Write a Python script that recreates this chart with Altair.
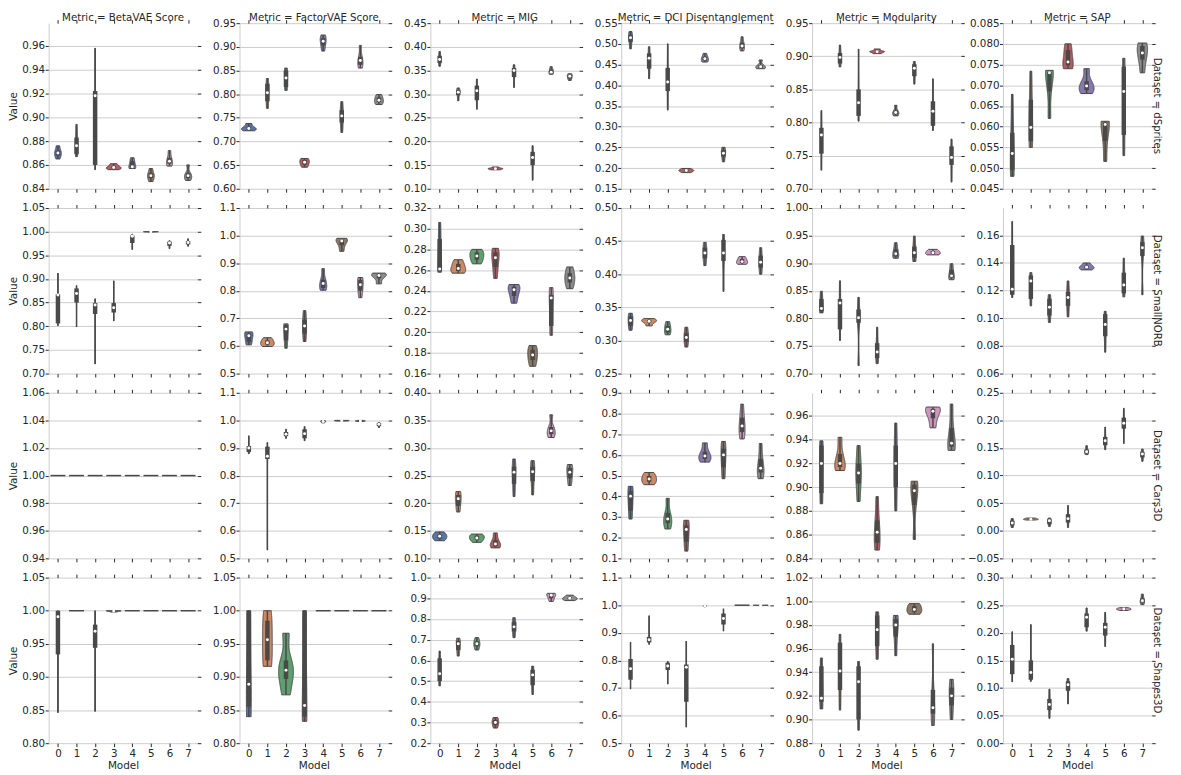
import altair as alt
import pandas as pd

datasets = ["dSprites", "SmallNORB", "Cars3D", "Shapes3D"]
metrics = ["BetaVAE Score", "FactorVAE Score", "MIG", "DCI Disentanglement", "Modularity", "SAP"]
models = [0, 1, 2, 3, 4, 5, 6, 7]
palette = ["#5975a4", "#cc8963", "#5f9e6e", "#b55d60", "#857aab", "#8d7866", "#d095bf", "#8c8c8c"]

# ---- values per violin (one list per model) ----
dsprites_beta = [[0.865, 0.868, 0.870, 0.872, 0.876], [0.867, 0.869, 0.876, 0.883, 0.894],
                 [0.856, 0.860, 0.918, 0.922, 0.958], [0.856, 0.857, 0.8578, 0.859, 0.861],
                 [0.857, 0.858, 0.8585, 0.863, 0.866], [0.846, 0.849, 0.851, 0.853, 0.857],
                 [0.859, 0.861, 0.863, 0.866, 0.872], [0.847, 0.849, 0.851, 0.853, 0.860]]
dsprites_factor = [[0.7225, 0.725, 0.7275, 0.731, 0.738], [0.770, 0.785, 0.803, 0.822, 0.833],
                   [0.808, 0.815, 0.834, 0.850, 0.855], [0.6455, 0.651, 0.656, 0.661, 0.664],
                   [0.891, 0.903, 0.912, 0.918, 0.925], [0.719, 0.740, 0.754, 0.766, 0.784],
                   [0.855, 0.862, 0.871, 0.879, 0.903], [0.778, 0.783, 0.787, 0.793, 0.799]]
dsprites_mig = [[0.359, 0.366, 0.373, 0.381, 0.390], [0.286, 0.298, 0.304, 0.308, 0.313],
                [0.268, 0.287, 0.307, 0.318, 0.332], [0.140, 0.1415, 0.1425, 0.1435, 0.146],
                [0.314, 0.336, 0.350, 0.355, 0.362], [0.118, 0.150, 0.166, 0.178, 0.191],
                [0.342, 0.344, 0.3465, 0.352, 0.358], [0.329, 0.333, 0.338, 0.340, 0.343]]
dsprites_dci = [[0.488, 0.505, 0.515, 0.521, 0.530], [0.416, 0.440, 0.465, 0.477, 0.493],
                [0.340, 0.386, 0.408, 0.442, 0.500], [0.189, 0.192, 0.194, 0.196, 0.199],
                [0.456, 0.460, 0.464, 0.469, 0.477], [0.215, 0.228, 0.236, 0.243, 0.250],
                [0.483, 0.489, 0.495, 0.503, 0.517], [0.440, 0.442, 0.445, 0.449, 0.461]]
dsprites_mod = [[0.728, 0.753, 0.781, 0.792, 0.818], [0.884, 0.889, 0.898, 0.905, 0.917],
                [0.802, 0.810, 0.830, 0.850, 0.911], [0.904, 0.906, 0.907, 0.908, 0.911],
                [0.810, 0.8125, 0.815, 0.818, 0.826], [0.858, 0.870, 0.882, 0.888, 0.892],
                [0.788, 0.795, 0.817, 0.832, 0.866], [0.710, 0.736, 0.747, 0.764, 0.775]]
dsprites_sap = [[0.048, 0.0495, 0.0535, 0.0585, 0.0678], [0.055, 0.0565, 0.0598, 0.0665, 0.0734],
                [0.062, 0.0685, 0.073, 0.0733, 0.0736], [0.074, 0.0748, 0.0756, 0.0785, 0.080],
                [0.068, 0.0688, 0.0698, 0.071, 0.074], [0.0516, 0.0565, 0.0605, 0.061, 0.0613],
                [0.053, 0.058, 0.0685, 0.0745, 0.0765], [0.073, 0.0762, 0.0778, 0.0795, 0.0802]]

smallnorb_beta = [[0.801, 0.806, 0.866, 0.868, 0.912], [0.7985, 0.850, 0.869, 0.880, 0.886],
                  [0.720, 0.826, 0.845, 0.849, 0.858], [0.811, 0.829, 0.839, 0.849, 0.896],
                  [0.962, 0.976, 0.990, 0.992, 0.995], [0.9990, 0.9995, 0.99975, 1.0, 1.0],
                  [0.964, 0.970, 0.976, 0.979, 0.981], [0.969, 0.973, 0.977, 0.980, 0.985]]
smallnorb_factor = [[0.604, 0.615, 0.637, 0.645, 0.651], [0.598, 0.605, 0.612, 0.620, 0.630],
                    [0.592, 0.620, 0.661, 0.675, 0.680], [0.616, 0.645, 0.672, 0.695, 0.728],
                    [0.802, 0.810, 0.826, 0.840, 0.880], [0.943, 0.965, 0.980, 0.985, 0.990],
                    [0.775, 0.800, 0.822, 0.840, 0.848], [0.825, 0.845, 0.855, 0.860, 0.864]]
smallnorb_mig = [[0.258, 0.2595, 0.261, 0.290, 0.306], [0.257, 0.259, 0.2615, 0.266, 0.270],
                 [0.266, 0.270, 0.2737, 0.277, 0.280], [0.252, 0.263, 0.272, 0.277, 0.281],
                 [0.228, 0.235, 0.241, 0.244, 0.246], [0.167, 0.173, 0.178, 0.183, 0.187],
                 [0.197, 0.206, 0.233, 0.236, 0.243], [0.242, 0.248, 0.2523, 0.257, 0.263]]
smallnorb_dci = [[0.3155, 0.322, 0.330, 0.336, 0.341], [0.322, 0.327, 0.329, 0.331, 0.333],
                 [0.3085, 0.312, 0.317, 0.322, 0.3283], [0.290, 0.298, 0.3045, 0.311, 0.320],
                 [0.413, 0.424, 0.432, 0.440, 0.448], [0.374, 0.420, 0.432, 0.452, 0.460],
                 [0.415, 0.417, 0.419, 0.423, 0.4265], [0.400, 0.410, 0.418, 0.428, 0.440]]
smallnorb_mod = [[0.810, 0.813, 0.818, 0.835, 0.849], [0.760, 0.780, 0.828, 0.835, 0.868],
                 [0.7145, 0.792, 0.801, 0.816, 0.838], [0.718, 0.728, 0.739, 0.755, 0.784],
                 [0.909, 0.912, 0.917, 0.925, 0.937], [0.903, 0.910, 0.919, 0.930, 0.949],
                 [0.915, 0.917, 0.919, 0.922, 0.925], [0.870, 0.874, 0.877, 0.888, 0.899]]
smallnorb_sap = [[0.115, 0.117, 0.121, 0.153, 0.170], [0.109, 0.114, 0.127, 0.131, 0.133],
                 [0.097, 0.102, 0.108, 0.114, 0.117], [0.101, 0.109, 0.115, 0.119, 0.127],
                 [0.135, 0.136, 0.137, 0.138, 0.140], [0.0755, 0.087, 0.0955, 0.103, 0.105],
                 [0.1155, 0.118, 0.124, 0.133, 0.1435], [0.117, 0.145, 0.151, 0.155, 0.1595]]

cars3d_beta = [[1.0, 1.0, 1.0, 1.0, 1.0] for _ in range(8)]
cars3d_factor = [[0.879, 0.885, 0.900, 0.907, 0.944], [0.53, 0.86, 0.870, 0.905, 0.92],
                 [0.935, 0.943, 0.950, 0.958, 0.968], [0.926, 0.935, 0.952, 0.968, 0.978],
                 [0.991, 0.994, 0.996, 0.998, 0.9995], [0.9975, 0.998, 0.999, 0.9995, 1.0],
                 [0.996, 0.997, 0.998, 0.999, 1.0], [0.974, 0.980, 0.986, 0.990, 0.992]]
cars3d_mig = [[0.132, 0.136, 0.140, 0.143, 0.148], [0.184, 0.195, 0.208, 0.215, 0.221],
              [0.129, 0.134, 0.137, 0.141, 0.144], [0.119, 0.122, 0.126, 0.133, 0.146],
              [0.212, 0.235, 0.256, 0.266, 0.280], [0.215, 0.240, 0.257, 0.266, 0.277],
              [0.319, 0.325, 0.331, 0.338, 0.360], [0.232, 0.245, 0.256, 0.264, 0.270]]
cars3d_dci = [[0.290, 0.330, 0.400, 0.425, 0.448], [0.456, 0.470, 0.484, 0.498, 0.515],
              [0.242, 0.270, 0.290, 0.320, 0.390], [0.135, 0.180, 0.240, 0.260, 0.284],
              [0.565, 0.580, 0.595, 0.615, 0.658], [0.485, 0.540, 0.600, 0.630, 0.665],
              [0.677, 0.710, 0.740, 0.780, 0.845], [0.485, 0.515, 0.535, 0.580, 0.655]]
cars3d_mod = [[0.886, 0.895, 0.920, 0.935, 0.939], [0.914, 0.917, 0.920, 0.928, 0.942],
              [0.888, 0.903, 0.912, 0.920, 0.935], [0.847, 0.853, 0.862, 0.872, 0.892],
              [0.880, 0.900, 0.920, 0.935, 0.954], [0.856, 0.885, 0.897, 0.902, 0.905],
              [0.950, 0.958, 0.964, 0.966, 0.9675], [0.931, 0.934, 0.937, 0.950, 0.970]]
cars3d_sap = [[0.006, 0.010, 0.014, 0.018, 0.022], [0.0195, 0.0205, 0.021, 0.022, 0.023],
              [0.008, 0.012, 0.018, 0.021, 0.023], [0.006, 0.015, 0.022, 0.030, 0.046],
              [0.138, 0.141, 0.143, 0.147, 0.154], [0.147, 0.155, 0.163, 0.170, 0.188],
              [0.158, 0.185, 0.195, 0.205, 0.222], [0.126, 0.133, 0.139, 0.143, 0.148]]

shapes3d_beta = [[0.846, 0.934, 0.991, 1.0, 1.0], [1.0, 1.0, 1.0, 1.0, 1.0],
                 [0.848, 0.944, 0.969, 0.979, 1.0], [0.998, 0.999, 0.9995, 1.0, 1.0],
                 [1.0, 1.0, 1.0, 1.0, 1.0], [1.0, 1.0, 1.0, 1.0, 1.0],
                 [1.0, 1.0, 1.0, 1.0, 1.0], [1.0, 1.0, 1.0, 1.0, 1.0]]
shapes3d_factor = [[0.840, 0.855, 0.889, 1.0, 1.0], [0.916, 0.925, 0.956, 0.985, 1.0],
                   [0.873, 0.897, 0.910, 0.925, 0.966], [0.833, 0.840, 0.857, 1.0, 1.0],
                   [1.0, 1.0, 1.0, 1.0, 1.0], [1.0, 1.0, 1.0, 1.0, 1.0],
                   [1.0, 1.0, 1.0, 1.0, 1.0], [1.0, 1.0, 1.0, 1.0, 1.0]]
shapes3d_mig = [[0.477, 0.500, 0.536, 0.610, 0.645], [0.621, 0.650, 0.680, 0.695, 0.707],
                [0.650, 0.668, 0.680, 0.692, 0.710], [0.273, 0.288, 0.300, 0.312, 0.324],
                [0.710, 0.740, 0.762, 0.785, 0.806], [0.435, 0.480, 0.530, 0.555, 0.572],
                [0.885, 0.900, 0.915, 0.920, 0.924], [0.889, 0.895, 0.900, 0.905, 0.915]]
shapes3d_dci = [[0.696, 0.730, 0.770, 0.805, 0.866], [0.858, 0.865, 0.875, 0.885, 0.962],
                [0.714, 0.765, 0.780, 0.792, 0.797], [0.558, 0.650, 0.775, 0.785, 0.870],
                [0.994, 0.996, 0.998, 0.999, 1.0], [0.906, 0.930, 0.952, 0.970, 0.987],
                [1.0, 1.0, 1.0, 1.0, 1.0], [0.999, 0.9995, 1.0, 1.0, 1.0]]
shapes3d_mod = [[0.909, 0.915, 0.918, 0.945, 0.952], [0.908, 0.925, 0.941, 0.965, 0.972],
                [0.891, 0.900, 0.932, 0.945, 0.949], [0.951, 0.962, 0.976, 0.988, 0.991],
                [0.954, 0.970, 0.980, 0.985, 0.988], [0.989, 0.991, 0.993, 0.996, 0.998],
                [0.895, 0.905, 0.910, 0.925, 0.964], [0.900, 0.912, 0.920, 0.927, 0.934]]
shapes3d_sap = [[0.111, 0.125, 0.152, 0.178, 0.202], [0.112, 0.115, 0.128, 0.150, 0.215],
                [0.045, 0.060, 0.070, 0.080, 0.098], [0.071, 0.095, 0.106, 0.112, 0.117],
                [0.203, 0.210, 0.228, 0.235, 0.245], [0.175, 0.195, 0.210, 0.218, 0.237],
                [0.2405, 0.242, 0.243, 0.244, 0.2455], [0.251, 0.255, 0.258, 0.262, 0.270]]

# ---- y axis of each panel: (low, high, tick step, tick label format) ----
dsprites_axes = [(0.84, 0.979, 0.02, ".2f"), (0.60, 0.95, 0.05, ".2f"), (0.10, 0.45, 0.05, ".2f"),
                 (0.15, 0.55, 0.05, ".2f"), (0.70, 0.95, 0.05, ".2f"), (0.045, 0.085, 0.005, ".3f")]
smallnorb_axes = [(0.70, 1.05, 0.05, ".2f"), (0.5, 1.1, 0.1, ".1f"), (0.16, 0.32, 0.02, ".2f"),
                  (0.25, 0.50, 0.05, ".2f"), (0.70, 1.00, 0.05, ".2f"), (0.06, 0.1798, 0.02, ".2f")]
cars3d_axes = [(0.94, 1.06, 0.02, ".2f"), (0.5, 1.1, 0.1, ".1f"), (0.10, 0.40, 0.05, ".2f"),
               (0.1, 0.9, 0.1, ".1f"), (0.84, 0.9795, 0.02, ".2f"), (-0.05, 0.25, 0.05, ".2f")]
shapes3d_axes = [(0.80, 1.05, 0.05, ".2f"), (0.80, 1.05, 0.05, ".2f"), (0.2, 1.0, 0.1, ".1f"),
                 (0.5, 1.1, 0.1, ".1f"), (0.88, 1.02, 0.02, ".2f"), (0.0, 0.30, 0.05, ".2f")]

panels = [
    [dsprites_beta, dsprites_factor, dsprites_mig, dsprites_dci, dsprites_mod, dsprites_sap],
    [smallnorb_beta, smallnorb_factor, smallnorb_mig, smallnorb_dci, smallnorb_mod, smallnorb_sap],
    [cars3d_beta, cars3d_factor, cars3d_mig, cars3d_dci, cars3d_mod, cars3d_sap],
    [shapes3d_beta, shapes3d_factor, shapes3d_mig, shapes3d_dci, shapes3d_mod, shapes3d_sap],
]
axes_rows = [dsprites_axes, smallnorb_axes, cars3d_axes, shapes3d_axes]

rows = []
for di, d in enumerate(datasets):
    for mi, m in enumerate(metrics):
        for model, vals in zip(models, panels[di][mi]):
            for v in vals:
                rows.append({"Dataset": d, "Metric": m, "Model": model, "Value": v})
df = pd.DataFrame(rows)

INK = "#262626"
GRAY = "#494949"
GRID = "#cccccc"
FONT = "DejaVu Sans"
W, H = 150, 167


def make_ticks(lo, hi, step):
    n = int((hi - lo) / step + 1e-6)
    return [round(lo + i * step, 6) for i in range(n + 1)]


def panel(di, mi):
    d, m = datasets[di], metrics[mi]
    lo, hi, step, fmt = axes_rows[di][mi]
    ticks = make_ticks(lo, hi, step)
    ysc = alt.Scale(domain=[lo, hi], nice=False, zero=False)
    xsc = alt.Scale(domain=[-0.5, 7.5], nice=False, zero=False)
    bottom_row = di == len(datasets) - 1

    left_axis = alt.Axis(values=ticks, format=fmt, title="Value" if mi == 0 else None,
                         grid=True, gridColor=GRID, gridWidth=1, domain=True, domainColor=GRID,
                         domainWidth=1, tickColor=INK, tickSize=3.5, labelPadding=0.5,
                         titlePadding=3)
    right_axis = alt.Axis(values=ticks, orient="right", labels=False, title=None, grid=False,
                          domain=False, tickColor=INK, tickSize=3.5)
    bottom_axis = alt.Axis(values=models, format="d", labels=bottom_row,
                           title="Model" if bottom_row else None, grid=False, domain=False,
                           tickColor=INK, tickSize=3.5, labelPadding=1.5, titlePadding=2,
                           labelAngle=0)
    top_axis = alt.Axis(values=models, orient="top", labels=False, title=None, grid=False,
                        domain=False, tickColor=INK, tickSize=3.5)

    base = alt.Chart(df).transform_filter((alt.datum.Dataset == d) & (alt.datum.Metric == m))

    # density of each model over its own range (values rescaled to 0..1 per model first)
    violin = base.transform_joinaggregate(
        vmin="min(Value)", vmax="max(Value)", groupby=["Model"]
    ).transform_filter("datum.vmax > datum.vmin").transform_calculate(
        u="(datum.Value - datum.vmin) / (datum.vmax - datum.vmin)"
    ).transform_density(
        "u", groupby=["Model", "vmin", "vmax"], as_=["u", "du"], extent=[0, 1], steps=120
    ).transform_calculate(
        v="datum.vmin + datum.u * (datum.vmax - datum.vmin)",
        density="datum.du / (datum.vmax - datum.vmin)",
    ).transform_joinaggregate(dmax="max(density)").transform_calculate(
        xl="datum.Model - 0.4 * datum.density / datum.dmax",
        xr="datum.Model + 0.4 * datum.density / datum.dmax",
    ).mark_area(orient="horizontal", stroke=GRAY, strokeWidth=1, opacity=1).encode(
        y=alt.Y("v:Q", scale=ysc, axis=left_axis),
        x=alt.X("xl:Q", scale=xsc, axis=bottom_axis),
        x2="xr:Q",
        color=alt.Color("Model:N", scale=alt.Scale(domain=models, range=palette), legend=None),
    )

    stats = base.transform_aggregate(
        lo="min(Value)", hi="max(Value)", q1="q1(Value)", med="median(Value)", q3="q3(Value)",
        groupby=["Model"],
    )
    varying = stats.transform_filter("datum.hi > datum.lo")
    whisker = varying.mark_rule(color=GRAY, strokeWidth=1.5).encode(
        x=alt.X("Model:Q", scale=xsc, axis=top_axis),
        y=alt.Y("lo:Q", scale=ysc, axis=right_axis),
        y2="hi:Q",
    )
    box = varying.mark_rule(color=GRAY, strokeWidth=4.5, strokeCap="butt").encode(
        x=alt.X("Model:Q", scale=xsc, axis=None),
        y=alt.Y("q1:Q", scale=ysc, axis=None),
        y2="q3:Q",
    )
    med = varying.mark_circle(color="white", size=9, opacity=1).encode(
        x=alt.X("Model:Q", scale=xsc, axis=None),
        y=alt.Y("med:Q", scale=ysc, axis=None),
    )
    flat = stats.transform_filter("datum.hi == datum.lo").transform_calculate(
        xl="datum.Model - 0.4", xr="datum.Model + 0.4"
    ).mark_rule(color=GRAY, strokeWidth=1.5).encode(
        x=alt.X("xl:Q", scale=xsc, axis=None),
        x2="xr:Q",
        y=alt.Y("lo:Q", scale=ysc, axis=None),
    )

    layers = [violin, whisker, box, med, flat]
    if mi == len(metrics) - 1:
        row_label = alt.Chart(pd.DataFrame({"t": ["Dataset = " + d]})).mark_text(
            angle=90, align="center", baseline="middle", font=FONT, fontSize=10.2, color=INK
        ).encode(text="t:N", x=alt.value(W + 5.5), y=alt.value(H / 2))
        layers.append(row_label)
    if di == 0:
        col_label = alt.Chart(pd.DataFrame({"t": ["Metric = " + m]})).mark_text(
            align="center", baseline="alphabetic", font=FONT, fontSize=10.3, color=INK
        ).encode(text="t:N", x=alt.value(W / 2), y=alt.value(-2.5))
        layers.append(col_label)

    return alt.layer(*layers).resolve_axis(x="independent", y="independent").properties(
        width=W, height=H
    )


charts = [panel(di, mi) for di in range(len(datasets)) for mi in range(len(metrics))]
chart = alt.concat(
    *charts, columns=len(metrics), spacing={"row": 19.4, "column": 42.5}, bounds="flush"
).properties(
    padding={"left": 0, "top": 1, "right": 11, "bottom": 0}
).configure(font=FONT).configure_view(strokeWidth=0).configure_axis(
    labelFont=FONT, labelFontSize=10.4, labelColor=INK, titleFont=FONT, titleFontSize=10.5,
    titleColor=INK, titleFontWeight="normal", tickWidth=1,
)

chart.save("out.html", embed_options={"renderer": "svg", "actions": False})
